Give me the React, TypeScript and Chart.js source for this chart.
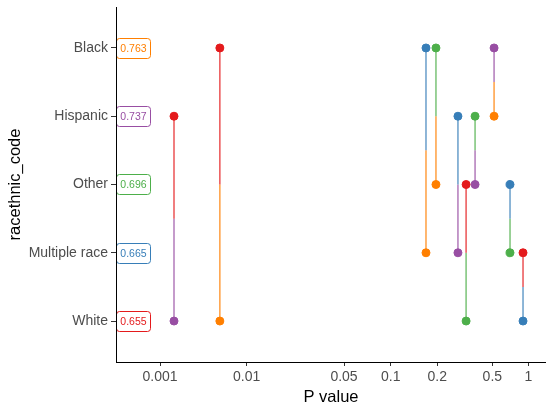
import React, { useEffect, useRef } from "react";
import { Chart, registerables } from "chart.js";

Chart.register(...registerables);

// ---- data ----
const groups = ["Black", "Hispanic", "Other", "Multiple race", "White"];
const groupColors = ["#FF7F00", "#984EA3", "#4DAF4A", "#377EB8", "#E41A1C"];
const aucLabels = ["0.763", "0.737", "0.696", "0.665", "0.655"];

const pairUpper = ["Black", "Hispanic", "Black", "Black", "Black", "Hispanic", "Hispanic", "Other", "Other", "Multiple race"];
const pairLower = ["White", "White", "Multiple race", "Other", "Hispanic", "Multiple race", "Other", "White", "Multiple race", "White"];
const pValues = [0.0049, 0.00145, 0.169, 0.196, 0.517, 0.282, 0.375, 0.323, 0.703, 0.903];

const xTickValues = [0.001, 0.01, 0.05, 0.1, 0.2, 0.5, 1];
const xTickLabels = ["0.001", "0.01", "0.05", "0.1", "0.2", "0.5", "1"];

// ---- axis transform (p-value scale definition: knot position of each tick) ----
const scaleKnots = [0, 0.2354, 0.4996, 0.6264, 0.7529, 0.9023, 1];
const X_MIN = -0.1195;
const X_MAX = 1.048;

function pScale(p: number): number {
  const l = Math.log10(p);
  const logs = xTickValues.map((v) => Math.log10(v));
  let i = 0;
  while (i < logs.length - 2 && l > logs[i + 1]) i++;
  const t = (l - logs[i]) / (logs[i + 1] - logs[i]);
  return scaleKnots[i] + t * (scaleKnots[i + 1] - scaleKnots[i]);
}

const FONT = "'Liberation Sans', Arial, sans-serif";

function rowOf(name: string): number {
  return groups.length - groups.indexOf(name);
}
function colorOf(name: string): string {
  return groupColors[groups.indexOf(name)];
}
function withAlpha(hex: string, a: number): string {
  const r = parseInt(hex.slice(1, 3), 16);
  const g = parseInt(hex.slice(3, 5), 16);
  const b = parseInt(hex.slice(5, 7), 16);
  return `rgba(${r},${g},${b},${a})`;
}

const aucLabelPlugin = {
  id: "aucLabels",
  afterDatasetsDraw(chart: any) {
    const { ctx, chartArea, scales } = chart;
    const y = scales.y;
    ctx.save();
    groups.forEach((g, i) => {
      const color = groupColors[i];
      const cy = y.getPixelForValue(rowOf(g));
      const w = 34;
      const h = 20;
      const x0 = chartArea.left + 0.5;
      ctx.beginPath();
      (ctx as any).roundRect(x0, Math.round(cy - h / 2) + 0.5, w, h, 3);
      ctx.fillStyle = "#ffffff";
      ctx.fill();
      ctx.strokeStyle = color;
      ctx.lineWidth = 1;
      ctx.stroke();
      ctx.fillStyle = color;
      ctx.font = `10.5px ${FONT}`;
      ctx.textAlign = "center";
      ctx.textBaseline = "middle";
      ctx.fillText(aucLabels[i], x0 + w / 2, cy + 1);
    });
    ctx.restore();
  },
};

export default function App() {
  const canvasRef = useRef<HTMLCanvasElement | null>(null);

  useEffect(() => {
    if (!canvasRef.current) return;
    const datasets: any[] = [];
    pValues.forEach((p, k) => {
      const a = pairUpper[k];
      const b = pairLower[k];
      const x = pScale(p);
      const ya = rowOf(a);
      const yb = rowOf(b);
      const mid = (ya + yb) / 2;
      datasets.push({
        data: [{ x, y: ya }, { x, y: mid }],
        showLine: true,
        borderColor: withAlpha(colorOf(b), 0.75),
        borderWidth: 1.5,
        pointRadius: 0,
        order: 2,
      });
      datasets.push({
        data: [{ x, y: mid }, { x, y: yb }],
        showLine: true,
        borderColor: withAlpha(colorOf(a), 0.75),
        borderWidth: 1.5,
        pointRadius: 0,
        order: 2,
      });
      datasets.push({
        data: [{ x, y: ya }, { x, y: yb }],
        showLine: false,
        pointRadius: 4,
        pointBackgroundColor: [colorOf(b), colorOf(a)],
        pointBorderColor: [colorOf(b), colorOf(a)],
        pointBorderWidth: 1,
        order: 1,
      });
    });

    const chart = new Chart(canvasRef.current, {
      type: "scatter",
      data: { datasets },
      options: {
        animation: false,
        responsive: false,
        layout: { autoPadding: false, padding: { top: 7, right: 0, bottom: 0, left: 0 } },
        plugins: { legend: { display: false }, tooltip: { enabled: false } },
        scales: {
          x: {
            type: "linear",
            min: X_MIN,
            max: X_MAX,
            afterBuildTicks: (s: any) => {
              s.ticks = xTickValues.map((v) => ({ value: pScale(v) }));
            },
            afterFit: (s: any) => {
              s.height = 44;
              s.paddingLeft = 0;
              s.paddingRight = 0;
            },
            ticks: {
              autoSkip: false,
              maxRotation: 0,
              color: "#4D4D4D",
              padding: 3,
              font: { size: 14, family: FONT },
              callback: (_v: any, i: number) => xTickLabels[i],
            },
            grid: { drawOnChartArea: false, drawTicks: true, tickLength: 4, color: "#333333", lineWidth: 1 },
            border: { display: true, color: "#000000", width: 1, z: 1 },
            title: {
              display: true,
              text: "P value",
              color: "#000000",
              font: { size: 16.5, family: FONT, lineHeight: 1 },
              padding: { top: 0, bottom: 0 },
            },
          },
          y: {
            type: "linear",
            min: 0.4,
            max: 5.6,
            afterBuildTicks: (s: any) => {
              s.ticks = groups.map((g) => ({ value: rowOf(g) }));
            },
            afterFit: (s: any) => {
              s.width = 116;
              s.paddingTop = 0;
              s.paddingBottom = 0;
            },
            ticks: {
              autoSkip: false,
              color: "#4D4D4D",
              padding: 3,
              font: { size: 14, family: FONT },
              callback: (v: any) => groups[groups.length - Number(v)],
            },
            grid: { drawOnChartArea: false, drawTicks: true, tickLength: 5, color: "#333333", lineWidth: 1 },
            border: { display: true, color: "#000000", width: 1, z: 1 },
            title: {
              display: true,
              text: "racethnic_code",
              color: "#000000",
              font: { size: 16.5, family: FONT, lineHeight: 1.2 },
              padding: { top: 6, bottom: 0 },
            },
          },
        },
      },
      plugins: [aucLabelPlugin],
    } as any);
    return () => chart.destroy();
  }, []);

  return (
    <div style={{ position: "fixed", left: 0, top: 0, width: 546, height: 406, background: "#ffffff" }}>
      <canvas ref={canvasRef} width={546} height={406} />
    </div>
  );
}
